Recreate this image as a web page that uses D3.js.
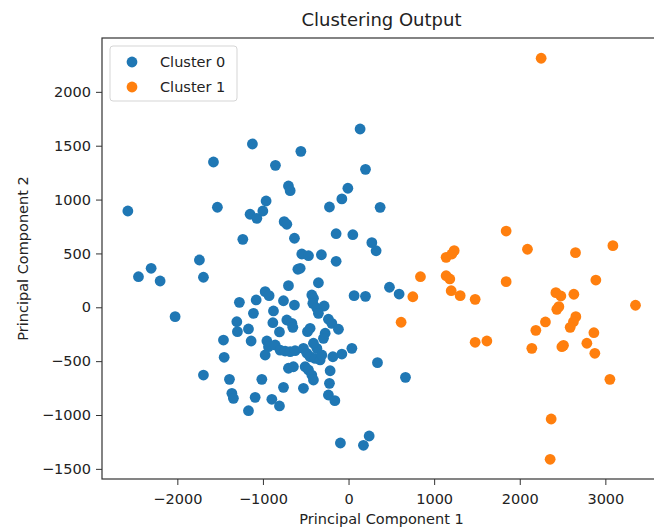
<!DOCTYPE html>
<html>
<head>
<meta charset="utf-8">
<script src="https://cdn.jsdelivr.net/npm/d3@7"></script>
<style>
  body { margin: 0; background: #fff; }
  svg { display: block; font-family: "DejaVu Sans", sans-serif; }
</style>
</head>
<body>
<svg id="chart" width="654" height="531"></svg>
<script>
const width = 654;
const height = 531;
const margin = { top: 38, right: -7, bottom: 52, left: 102 };

// cluster 0 (blue) points: [PC1, PC2]
const cluster0 = [
  [-1578, 1349], [-1123, 1516], [-854, 1318], [-557, 1448], [-702, 1126], [-682, 1083],
  [135, 1655], [198, 1281], [-8, 1105], [-78, 1006], [-223, 931], [369, 928],
  [-145, 683], [50, 674], [272, 600], [322, 525], [-546, 495], [-468, 479],
  [-317, 488], [-145, 427], [-565, 362], [-352, 228], [-429, 114], [-410, 84],
  [-417, 37], [-370, -9], [-285, 12], [-352, -56], [65, 108], [198, 102],
  [478, 186], [591, 123], [338, -514], [665, -650], [-95, -1260], [174, -1281],
  [241, -1195], [39, -381], [-78, -434], [-183, -459], [-215, -589], [-223, -706],
  [-235, -814], [-160, -867], [-1695, 279], [-592, 353], [-702, 201], [-974, 145],
  [-928, 108], [-1275, 46], [-1079, 68], [-760, 61], [-632, 21], [-1111, -56],
  [-877, -34], [-1305, -134], [-1298, -226], [-1169, -201], [-884, -143], [-721, -118],
  [-662, -149], [-651, -186], [-807, -229], [-480, -226], [-449, -195], [-235, -111],
  [-195, -149], [-118, -204], [-273, -241], [-293, -288], [-1461, -304], [-1138, -313],
  [-954, -313], [-935, -366], [-857, -350], [-799, -397], [-741, -406], [-682, -412],
  [-624, -403], [-974, -443], [-527, -381], [-487, -427], [-449, -459], [-390, -474],
  [-370, -381], [-410, -334], [-332, -489], [-312, -443], [-1453, -464], [-702, -566],
  [-644, -552], [-507, -552], [-468, -582], [-429, -629], [-410, -675], [-1695, -629],
  [-1391, -669], [-1013, -669], [-527, -752], [-760, -743], [-1363, -799], [-1345, -845],
  [-1091, -836], [-896, -854], [-807, -916], [-1169, -960], [-2578, 894], [-1532, 929],
  [-1150, 864], [-1071, 826], [-1001, 894], [-963, 987], [-752, 795], [-721, 771],
  [-632, 641], [-1235, 631], [-2454, 284], [-2306, 362], [-2201, 244], [-1742, 439],
  [-2026, -87]
];

// cluster 1 (orange) points
const cluster1 = [
  [2250, 2312], [1841, 708], [1841, 238], [1140, 464], [1207, 495], [1234, 526],
  [840, 284], [1140, 293], [1183, 263], [1199, 154], [1304, 108], [1479, 74],
  [751, 98], [614, -139], [1479, -325], [1616, -313], [2090, 539], [2651, 507],
  [3088, 572], [2889, 253], [2422, 136], [2480, 105], [2457, 6], [2433, -19],
  [2632, 121], [3352, 19], [2300, -136], [2188, -214], [2655, -87], [2627, -134],
  [2589, -186], [2866, -236], [2141, -381], [2511, -353], [2492, -366], [2784, -334],
  [2877, -427], [3053, -669], [2367, -1037], [2355, -1411]
];

const seriesNames = ["Cluster 0", "Cluster 1"];
const seriesColors = ["#1f77b4", "#ff7f0e"];
const xTicks = [-2000, -1000, 0, 1000, 2000, 3000];
const yTicks = [-1500, -1000, -500, 0, 500, 1000, 1500, 2000];

const svg = d3.select("#chart");
const plotW = width - margin.left - margin.right;
const plotH = height - margin.top - margin.bottom;

const x = d3.scaleLinear().domain([-2880, 3650]).range([0, plotW]);
const y = d3.scaleLinear().domain([-1594, 2500]).range([plotH, 0]);

const g = svg.append("g")
  .attr("transform", `translate(${margin.left},${margin.top})`);

// points
[cluster0, cluster1].forEach((pts, i) => {
  g.append("g")
    .selectAll("circle")
    .data(pts)
    .join("circle")
    .attr("cx", d => x(d[0]))
    .attr("cy", d => y(d[1]))
    .attr("r", 5.4)
    .attr("fill", seriesColors[i]);
});

// frame
g.append("rect")
  .attr("width", plotW)
  .attr("height", plotH)
  .attr("fill", "none")
  .attr("stroke", "#333")
  .attr("stroke-width", 1.2);

const fmt = d3.format("d");

const xAxis = g.append("g")
  .attr("transform", `translate(0,${plotH})`)
  .call(d3.axisBottom(x).tickValues(xTicks).tickFormat(fmt).tickSize(6).tickPadding(9).tickSizeOuter(0));

const yAxis = g.append("g")
  .call(d3.axisLeft(y).tickValues(yTicks).tickFormat(fmt).tickSize(6).tickPadding(5).tickSizeOuter(0));

[xAxis, yAxis].forEach(a => {
  a.select(".domain").remove();
  a.selectAll("line").attr("stroke", "#333");
  a.selectAll("text")
    .attr("fill", "#222")
    .style("font-family", "DejaVu Sans, sans-serif")
    .style("font-size", "14.5px");
});

// title and axis labels
svg.append("text")
  .attr("x", margin.left + plotW / 2)
  .attr("y", 26)
  .attr("text-anchor", "middle")
  .attr("fill", "#222")
  .style("font-size", "18px")
  .text("Clustering Output");

svg.append("text")
  .attr("x", margin.left + plotW / 2)
  .attr("y", 524)
  .attr("text-anchor", "middle")
  .attr("fill", "#222")
  .style("font-size", "14.5px")
  .text("Principal Component 1");

svg.append("text")
  .attr("transform", `translate(28,${margin.top + plotH / 2}) rotate(-90)`)
  .attr("text-anchor", "middle")
  .attr("fill", "#222")
  .style("font-size", "14.5px")
  .text("Principal Component 2");

// legend
const legend = svg.append("g").attr("transform", "translate(110,46)");
legend.append("rect")
  .attr("width", 127)
  .attr("height", 55)
  .attr("rx", 3)
  .attr("fill", "#fff")
  .attr("fill-opacity", 0.8)
  .attr("stroke", "#d5d5d5");

seriesNames.forEach((name, i) => {
  const row = legend.append("g").attr("transform", `translate(0,${16 + i * 25})`);
  row.append("circle")
    .attr("cx", 22)
    .attr("cy", 0)
    .attr("r", 5.4)
    .attr("fill", seriesColors[i]);
  row.append("text")
    .attr("x", 50)
    .attr("y", 5)
    .attr("fill", "#222")
    .style("font-size", "14.5px")
    .text(name);
});
</script>
</body>
</html>
